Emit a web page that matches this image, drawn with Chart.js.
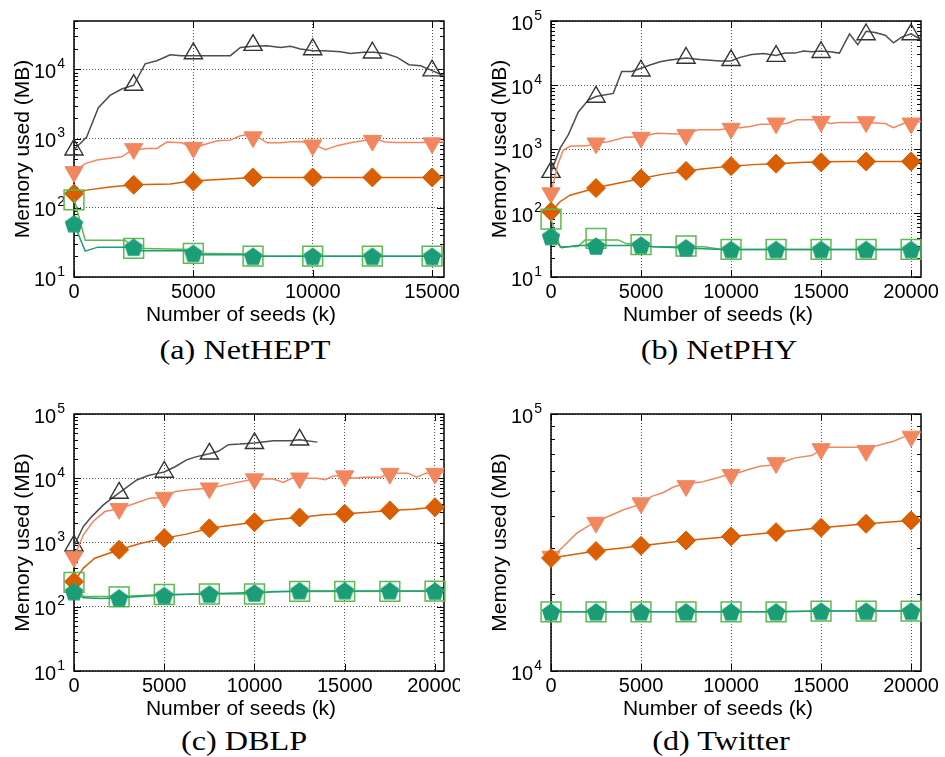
<!DOCTYPE html>
<html>
<head>
<meta charset="utf-8">
<script src="https://cdn.jsdelivr.net/npm/chart.js@4.4.1/dist/chart.umd.min.js"></script>
<style>
  body { margin: 0; background: #fff; }
  #fig { position: relative; width: 945px; height: 757px; overflow: hidden; background: #fff; }
  canvas { position: absolute; }
  .cap { position: absolute; font-family: "Liberation Serif", "Times New Roman", serif; font-size: 28px;
         color: #000; transform: translate(-50%, -50%) scaleX(1.15); white-space: nowrap; }
</style>
</head>
<body>
<div id="fig">
  <canvas id="cA" width="460" height="330" style="left:0px;top:0px"></canvas>
  <canvas id="cB" width="475" height="330" style="left:470px;top:0px"></canvas>
  <canvas id="cC" width="460" height="330" style="left:0px;top:390px"></canvas>
  <canvas id="cD" width="475" height="330" style="left:470px;top:390px"></canvas>
  <div class="cap" style="left:245px;top:350px">(a) NetHEPT</div>
  <div class="cap" style="left:719px;top:350px">(b) NetPHY</div>
  <div class="cap" style="left:244px;top:741px">(c) DBLP</div>
  <div class="cap" style="left:721px;top:741px">(d) Twitter</div>
</div>
<script>
// tick positions
const seedTicks15 = [0, 5000, 10000, 15000];
const seedTicks20 = [0, 5000, 10000, 15000, 20000];
const memTicks4 = [10, 100, 1000, 10000];
const memTicks5 = [10, 100, 1000, 10000, 100000];
const memTicksTw = [10000, 100000];

// seeds where markers sit
const markSeeds15 = [0, 2500, 5000, 7500, 10000, 12500, 15000];
const markSeeds20 = [0, 2500, 5000, 7500, 10000, 12500, 15000, 17500, 20000];

// (a) NetHEPT
const triLineXA = [0, 530, 1020, 1510, 2000, 2500, 2980, 3470, 4030, 4500, 5000, 6000, 6550, 6970, 7500, 8090, 8650, 9070, 9490, 10000, 10500, 11160, 11580, 12140, 12560, 13050, 13540, 14030, 14520, 15000, 15500];
const triLineYA = [690, 1050, 2800, 4200, 5200, 5900, 12000, 13300, 16200, 15800, 15800, 15800, 15800, 20700, 21500, 22000, 20700, 21600, 19700, 18600, 18600, 18000, 17000, 17700, 17700, 17000, 14900, 11700, 11300, 9600, 8100];
const triMarkA = [690, 5940, 17000, 22400, 19400, 17400, 9600];
const downLineXA = [0, 470, 960, 2000, 2420, 3050, 3470, 3890, 4500, 5000, 5500, 6000, 6550, 6970, 7500, 8090, 8650, 9070, 9490, 10000, 10540, 11020, 11580, 12140, 12560, 13050, 13540, 14500, 15500];
const downLineYA = [330, 435, 490, 545, 680, 720, 720, 890, 870, 740, 830, 930, 950, 1100, 1170, 870, 870, 900, 910, 830, 690, 790, 870, 940, 1000, 890, 880, 880, 890];
const downMarkA = [330, 710, 740, 1050, 800, 935, 860];
const diaLineXA = [0, 530, 1510, 2500, 4030, 5000, 5500, 7500, 10000, 12500, 15000, 15500];
const diaLineYA = [160, 180, 200, 215, 220, 245, 250, 275, 275, 275, 275, 275];
const diaMarkA = [160, 215, 240, 275, 275, 275, 275];
const sqLineXA = [0, 470, 2140, 2500, 4900, 5100, 7400, 7600, 15500];
const sqLineYA = [135, 34, 34, 26, 25, 22, 21.5, 20, 20];
const sqMarkA = [130, 26, 22, 20, 20, 20, 20];
const pentLineXA = [0, 470, 1000, 2400, 2600, 4900, 5100, 7400, 7600, 15500];
const pentLineYA = [59, 23.6, 27, 27, 24, 24, 21, 21, 20, 20];
const pentMarkA = [59, 27, 22, 20, 20, 20, 20];

// (b) NetPHY
const triLineXB = [0, 500, 960, 1520, 2070, 2500, 3460, 3930, 4480, 5000, 5500, 6060, 6520, 7500, 8280, 9390, 10000, 10500, 11150, 11800, 12500, 13000, 13560, 14020, 14480, 15000, 15500, 16020, 16580, 17040, 17500, 18000, 18560, 19020, 19480, 20000, 20550];
const triLineYB = [435, 1020, 1660, 3800, 5800, 6600, 7400, 16300, 16300, 18300, 20500, 23000, 24400, 26400, 25000, 23700, 23700, 27000, 30000, 31000, 29000, 31500, 31500, 34000, 33000, 34000, 33000, 31500, 63000, 42500, 69000, 66000, 60000, 45700, 56000, 63000, 51000];
const triMarkB = [435, 6500, 16700, 26400, 24300, 28300, 32500, 61500, 61500];
const downLineXB = [0, 400, 680, 1055, 1980, 2500, 3180, 4110, 5000, 5870, 7500, 8180, 9390, 10000, 10500, 11060, 11610, 12500, 13090, 13650, 15000, 15500, 16020, 17500, 18560, 19020, 19570, 20000, 20550];
const downLineYB = [205, 600, 960, 1100, 1120, 1230, 1300, 1520, 1550, 1760, 1700, 2000, 2000, 2140, 2140, 2250, 2430, 2430, 2500, 2870, 2870, 2500, 2600, 2600, 2500, 2150, 2500, 2600, 2700];
const downMarkB = [205, 1230, 1510, 1660, 2090, 2520, 2680, 2640, 2520];
const diaLineXB = [0, 500, 1055, 2500, 3090, 3650, 5000, 6240, 7500, 8500, 10000, 11200, 12500, 13800, 15000, 16500, 17500, 20000, 20550];
const diaLineYB = [105, 150, 190, 245, 270, 290, 345, 405, 455, 490, 540, 570, 590, 615, 630, 635, 640, 640, 640];
const diaMarkB = [105, 245, 345, 455, 540, 590, 620, 640, 640];
const sqLineXB = [0, 500, 1500, 1890, 3740, 4200, 5000, 5680, 7500, 8500, 9500, 10000, 20550];
const sqLineYB = [80, 29.7, 30, 38, 38, 33, 33, 29.7, 29.7, 29.7, 27, 27, 27];
const sqMarkB = [80, 40, 32, 30.5, 27, 27, 27, 27, 27];
const pentLineXB = [0, 590, 1420, 5000, 5680, 7500, 9500, 10000, 20550];
const pentLineYB = [43, 28.6, 31, 31, 29.7, 28.5, 27, 27, 27];
const pentMarkB = [43, 30.5, 31.6, 28.6, 27, 27, 27, 27, 27];

// (c) DBLP
const triLineXC = [0, 520, 980, 1630, 2180, 2500, 3480, 4120, 4580, 5000, 5600, 6240, 6800, 7500, 8000, 8550, 9200, 10000, 11050, 11970, 12500, 13480];
const triLineYC = [890, 1780, 2530, 3850, 5070, 5900, 9400, 11000, 11800, 12500, 15100, 19300, 21700, 24000, 26300, 33300, 34000, 35300, 38400, 38400, 39800, 36500];
const triMarkC = [890, 5900, 12500, 24000, 35000, 39700];
const downLineXC = [0, 520, 1070, 1710, 2500, 3480, 4210, 5000, 5600, 6500, 7500, 8830, 10000, 11050, 11600, 12060, 12500, 13450, 13910, 14370, 15000, 15480, 16030, 17000, 17500, 18500, 18990, 19500, 20000, 20500];
const downLineYC = [595, 1320, 2140, 3030, 3340, 4160, 4900, 5000, 6200, 6700, 7000, 8400, 9700, 9700, 8600, 10000, 10000, 10000, 9500, 10800, 10800, 10000, 10400, 10400, 12000, 12000, 10400, 12000, 12000, 12500];
const downMarkC = [595, 3340, 5000, 7000, 9700, 10000, 10800, 11800, 11800];
const diaLineXC = [0, 520, 1150, 2500, 3720, 5000, 6240, 7500, 8830, 10000, 11300, 12500, 13820, 15000, 16300, 17500, 18800, 20000, 20500];
const diaLineYC = [245, 400, 570, 770, 975, 1170, 1350, 1660, 1880, 2070, 2300, 2450, 2700, 2800, 2950, 3160, 3300, 3540, 3600];
const diaMarkC = [245, 770, 1170, 1660, 2070, 2450, 2800, 3160, 3540];
const sqLineXC = [0, 520, 2500, 3700, 5000, 7500, 10000, 11000, 12500, 20500];
const sqLineYC = [240, 145, 145, 150, 155, 158, 158, 173, 173, 175];
const sqMarkC = [240, 142, 155, 158, 158, 173, 173, 173, 175];
const pentLineXC = [0, 520, 1500, 2500, 5000, 7500, 10000, 12500, 20500];
const pentLineYC = [172, 138, 135, 138, 152, 160, 166, 176, 176];
const pentMarkC = [172, 138, 150, 158, 164, 178, 178, 178, 176];

// (d) Twitter
const downLineXD = [0, 690, 1430, 2500, 3280, 4020, 5000, 5590, 6240, 6800, 7500, 8280, 9200, 10000, 10500, 11060, 11610, 12500, 13000, 13560, 14480, 15000, 15500, 16800, 17500, 18090, 19020, 19570, 20000, 20550];
const downLineYD = [27500, 30500, 34400, 38200, 40200, 42400, 44600, 47800, 49500, 52000, 53600, 54200, 56400, 58600, 59300, 61100, 62600, 63500, 65500, 67500, 68900, 72700, 74200, 74300, 74300, 75300, 78300, 81300, 83600, 85000];
const downMarkD = [27900, 37800, 45000, 52500, 58000, 64500, 73100, 71900, 81800];
const diaLineXD = [0, 2500, 5000, 7500, 10000, 12500, 15000, 17500, 20000, 20550];
const diaLineYD = [27500, 29300, 30700, 32200, 33400, 34700, 36100, 37400, 38500, 38800];
const diaMarkD = [27500, 29300, 30700, 32200, 33400, 34700, 36100, 37400, 38500];
const sqLineXD = [0, 12500, 15000, 20550];
const sqLineYD = [17000, 17000, 17100, 17100];
const sqMarkD = [17000, 17000, 17000, 17000, 17000, 17000, 17100, 17100, 17100];
const pentLineXD = [0, 12500, 15000, 20550];
const pentLineYD = [17000, 17000, 17100, 17100];
const pentMarkD = [17000, 17000, 17000, 17000, 17000, 17000, 17100, 17100, 17100];

const SANS = '"Liberation Sans", Arial, Helvetica, sans-serif';

// pentagon marker, drawn once on a small canvas
function pentagon(r, color) {
  const c = document.createElement('canvas');
  const s = Math.ceil(2 * r + 4);
  c.width = s; c.height = s;
  const g = c.getContext('2d');
  g.fillStyle = color;
  g.beginPath();
  for (let i = 0; i < 5; i++) {
    const a = -Math.PI / 2 + i * 2 * Math.PI / 5;
    const px = s / 2 + r * Math.cos(a), py = s / 2 + 1 + r * Math.sin(a);
    if (i) g.lineTo(px, py); else g.moveTo(px, py);
  }
  g.closePath();
  g.fill();
  return c;
}

const look = {
  tri:  { line: '#4d4d4d', edge: '#333333', fill: 'rgba(0,0,0,0)', shape: 'triangle', r: 10.5, rot: 0, bw: 1.4 },
  down: { line: '#f2875f', edge: '#f2875f', fill: '#f2875f', shape: 'triangle', r: 10.5, rot: 180, bw: 1 },
  dia:  { line: '#d95f02', edge: '#d95f02', fill: '#d95f02', shape: 'rectRot', r: 9.5, rot: 0, bw: 1 },
  sq:   { line: '#5cb84c', edge: '#5cbb4e', fill: 'rgba(0,0,0,0)', shape: 'rect', r: 14, rot: 0, bw: 1.5 },
  pent: { line: '#1b9e77', edge: '#1b9e77', fill: '#1b9e77', shape: pentagon(9.7, '#1b9e77'), r: 10, rot: 0, bw: 0 }
};

function pts(xs, ys) {
  return xs.map((x, i) => ({ x: x, y: ys[i] }));
}

function series(st, lx, ly, mx, my) {
  return [
    { data: pts(mx, my), showLine: false, pointStyle: st.shape, pointRadius: st.r, pointRotation: st.rot,
      pointBackgroundColor: st.fill, pointBorderColor: st.edge, pointBorderWidth: st.bw, clip: false },
    { data: pts(lx, ly), showLine: true, borderColor: st.line, borderWidth: 1.5, pointRadius: 0, clip: false }
  ];
}

function decorations(sp) {
  return {
    id: 'deco',
    beforeDatasetsDraw(chart) {
      const ctx = chart.ctx, a = chart.chartArea, y = chart.scales.y, x = chart.scales.x;
      ctx.save();
      ctx.strokeStyle = '#000';
      ctx.fillStyle = '#000';
      ctx.lineWidth = 1;
      // log ticks on both sides, pointing in
      const n0 = Math.floor(Math.log10(sp.yMin)), n1 = Math.ceil(Math.log10(sp.yMax));
      ctx.beginPath();
      for (let n = n0; n <= n1; n++) {
        for (let k = 1; k <= 9; k++) {
          const v = k * Math.pow(10, n);
          if (v < sp.yMin * 0.999 || v > sp.yMax * 1.001) continue;
          const p = Math.round(y.getPixelForValue(v)) + 0.5;
          const len = k === 1 ? 7 : 4;
          ctx.moveTo(a.left, p); ctx.lineTo(a.left + len, p);
          ctx.moveTo(a.right, p); ctx.lineTo(a.right - len, p);
        }
      }
      sp.xTicks.forEach(v => {
        const p = Math.round(x.getPixelForValue(v)) + 0.5;
        ctx.moveTo(p, a.bottom); ctx.lineTo(p, a.bottom - 7);
        ctx.moveTo(p, a.top); ctx.lineTo(p, a.top + 7);
      });
      ctx.stroke();
      ctx.lineWidth = 1.5;
      ctx.strokeRect(a.left, a.top, a.right - a.left, a.bottom - a.top);

      // 10^n labels
      sp.yTicks.forEach(v => {
        const p = y.getPixelForValue(v);
        const e = String(Math.round(Math.log10(v)));
        ctx.font = '14px ' + SANS;
        ctx.textAlign = 'right';
        ctx.textBaseline = 'alphabetic';
        const ew = ctx.measureText(e).width;
        ctx.fillText(e, a.left - 9, p - 1.5);
        ctx.font = '20px ' + SANS;
        ctx.fillText('10', a.left - 10 - ew, p + 8.5);
      });

      // axis titles
      ctx.font = '21px ' + SANS;
      ctx.textAlign = 'center';
      ctx.textBaseline = 'middle';
      ctx.fillText('Number of seeds (k)', (a.left + a.right) / 2 - 18, a.bottom + 38);
      ctx.translate(a.left - 51, (a.top + a.bottom) / 2);
      ctx.rotate(-Math.PI / 2);
      ctx.fillText('Memory used (MB)', 0, 0);
      ctx.restore();
    }
  };
}

function panel(id, sp, datasets) {
  new Chart(document.getElementById(id), {
    type: 'scatter',
    data: { datasets: datasets },
    options: {
      responsive: false,
      animation: false,
      events: [],
      layout: { padding: { top: sp.top, right: sp.right, left: 0, bottom: 0 } },
      plugins: { legend: { display: false }, tooltip: { enabled: false } },
      scales: {
        x: {
          type: 'linear', min: 0, max: sp.xMax,
          afterBuildTicks: s => { s.ticks = sp.xTicks.map(v => ({ value: v })); },
          afterFit: s => { s.height = sp.xh; s.paddingLeft = 0; s.paddingRight = 0; },
          ticks: { autoSkip: false, maxRotation: 0, padding: 3, color: '#000',
                   font: { family: SANS, size: 20 }, callback: v => String(v) },
          grid: { color: '#555', lineWidth: 1, drawTicks: false },
          border: { display: false, dash: [1, 2] }
        },
        y: {
          type: 'logarithmic', min: sp.yMin, max: sp.yMax,
          afterBuildTicks: s => { s.ticks = sp.yTicks.map(v => ({ value: v })); },
          afterFit: s => { s.width = sp.yw; s.paddingTop = 0; s.paddingBottom = 0; },
          ticks: { display: false },
          grid: { color: '#555', lineWidth: 1, drawTicks: false },
          border: { display: false, dash: [1, 2] }
        }
      }
    },
    plugins: [decorations(sp)]
  });
}

window.onload = () => {
  panel('cA', { top: 21, right: 16, yw: 74, xh: 53, xMax: 15500, yMin: 10, yMax: 50000,
                xTicks: seedTicks15, yTicks: memTicks4 }, [
    ...series(look.pent, pentLineXA, pentLineYA, markSeeds15, pentMarkA),
    ...series(look.sq, sqLineXA, sqLineYA, markSeeds15, sqMarkA),
    ...series(look.dia, diaLineXA, diaLineYA, markSeeds15, diaMarkA),
    ...series(look.down, downLineXA, downLineYA, markSeeds15, downMarkA),
    ...series(look.tri, triLineXA, triLineYA, markSeeds15, triMarkA)
  ]);
  panel('cB', { top: 21, right: 24, yw: 81, xh: 53, xMax: 20550, yMin: 10, yMax: 100000,
                xTicks: seedTicks20, yTicks: memTicks5 }, [
    ...series(look.pent, pentLineXB, pentLineYB, markSeeds20, pentMarkB),
    ...series(look.sq, sqLineXB, sqLineYB, markSeeds20, sqMarkB),
    ...series(look.dia, diaLineXB, diaLineYB, markSeeds20, diaMarkB),
    ...series(look.down, downLineXB, downLineYB, markSeeds20, downMarkB),
    ...series(look.tri, triLineXB, triLineYB, markSeeds20, triMarkB)
  ]);
  panel('cC', { top: 24, right: 16, yw: 74, xh: 49, xMax: 20500, yMin: 10, yMax: 100000,
                xTicks: seedTicks20, yTicks: memTicks5 }, [
    ...series(look.pent, pentLineXC, pentLineYC, markSeeds20, pentMarkC),
    ...series(look.sq, sqLineXC, sqLineYC, markSeeds20, sqMarkC),
    ...series(look.dia, diaLineXC, diaLineYC, markSeeds20, diaMarkC),
    ...series(look.down, downLineXC, downLineYC, markSeeds20, downMarkC),
    ...series(look.tri, triLineXC, triLineYC, markSeeds20.slice(0, triMarkC.length), triMarkC)
  ]);
  panel('cD', { top: 24, right: 24, yw: 81, xh: 49, xMax: 20550, yMin: 10000, yMax: 100000,
                xTicks: seedTicks20, yTicks: memTicksTw }, [
    ...series(look.pent, pentLineXD, pentLineYD, markSeeds20, pentMarkD),
    ...series(look.sq, sqLineXD, sqLineYD, markSeeds20, sqMarkD),
    ...series(look.dia, diaLineXD, diaLineYD, markSeeds20, diaMarkD),
    ...series(look.down, downLineXD, downLineYD, markSeeds20, downMarkD)
  ]);
};
</script>
</body>
</html>
